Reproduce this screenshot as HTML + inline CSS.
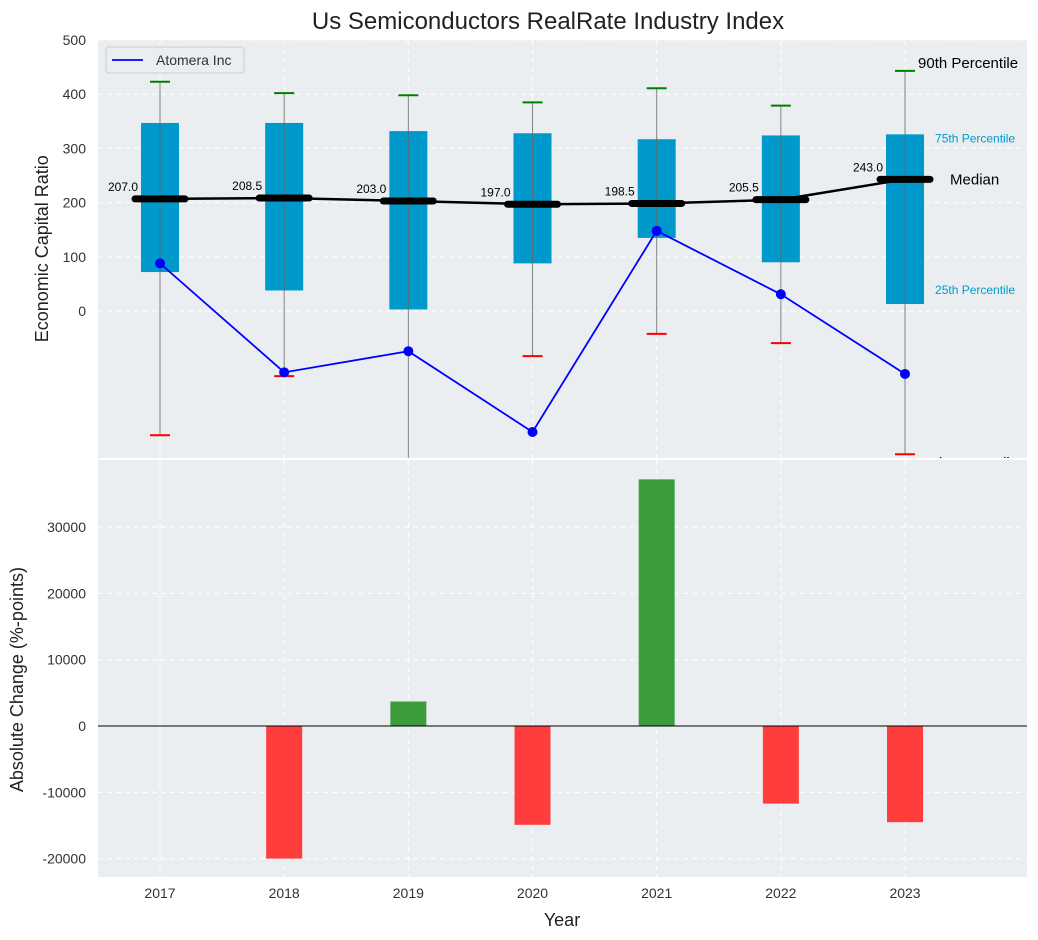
<!DOCTYPE html>
<html><head><meta charset="utf-8"><style>
body{margin:0;background:#fff;}
svg{display:block;font-family:"Liberation Sans",sans-serif;}
</style></head><body>
<svg id="chart" width="1038" height="940" xmlns="http://www.w3.org/2000/svg">
<rect width="1038" height="940" fill="#fff"/>
<text x="548" y="29" font-size="24" text-anchor="middle" fill="#222">Us Semiconductors RealRate Industry Index</text>
<g id="topPanel"></g>
<g id="botPanel"></g>
</svg>
<script>
const years=[2017,2018,2019,2020,2021,2022,2023];
const p10=[-229,-120,-300,-83,-42,-59,-264];
const p25=[72,38,3,88,135,90,13];
const medians=[207,208.5,203,197,198.5,205.5,243];
const p75=[347,347,332,328,317,324,326];
const p90=[423,402,398,385,411,379,443];
const atomera=[88,-113,-74,-223,148,31,-116];
const changes=[null,-20000,3700,-14900,37200,-11700,-14500];
const topTicks=[0,100,200,300,400,500];
const botTicks=[-20000,-10000,0,10000,20000,30000];

const NS="http://www.w3.org/2000/svg";
function mk(parent,tag,attrs,name){const e=document.createElementNS(NS,tag);for(const k in attrs)e.setAttribute(k,attrs[k]);


parent.appendChild(e);return e;}
const L=98,R=1027;
const xs=y=>160+(y-2017)*124.17;
const T0=40,T1=458,tMin=-271,tMax=500;
const ty=v=>T1-(v-tMin)/(tMax-tMin)*(T1-T0);
const B0=460,B1=877,bMin=-22770,bMax=40120;
const by=v=>B1-(v-bMin)/(bMax-bMin)*(B1-B0);
const topG=document.getElementById('topPanel'),botG=document.getElementById('botPanel');
const fmt=n=>n.toFixed(1);

// top panel
mk(topG,'rect',{x:L,y:T0,width:R-L,height:T1-T0,fill:'#eaeef0'},'top-plot-area');
years.forEach(y=>mk(topG,'line',{x1:xs(y),x2:xs(y),y1:T0,y2:T1,stroke:'#fff','stroke-dasharray':'5,4','stroke-width':1},'top-x-gridline'));
topTicks.forEach(t=>{mk(topG,'line',{x1:L,x2:R,y1:ty(t),y2:ty(t),stroke:'#fff','stroke-dasharray':'5,4','stroke-width':1},'top-y-gridline');
const tx=mk(topG,'text',{x:L-12,y:ty(t)+5,'font-size':14,'text-anchor':'end',fill:'#333'},'top-y-tick-label');tx.textContent=t;});
const yt=mk(topG,'text',{x:48,y:ty(115),'font-size':18,'text-anchor':'middle',fill:'#222',transform:`rotate(-90 48 ${ty(115)})`},'top-y-axis-title');yt.textContent='Economic Capital Ratio';
const cp=mk(topG,'clipPath',{id:'tc'},'top-clip');mk(cp,'rect',{x:L,y:T0,width:R-L,height:T1-T0},'top-clip-rect');
const g=mk(topG,'g',{'clip-path':'url(#tc)'},'top-marks');
years.forEach((y,i)=>{const x=xs(y);
mk(g,'rect',{x:x-19,y:ty(p75[i]),width:38,height:ty(p25[i])-ty(p75[i]),fill:'#0099cc'},'iqr-box-'+y);
mk(g,'line',{x1:x,x2:x,y1:ty(p90[i]),y2:ty(p10[i]),stroke:'#666','stroke-width':1,opacity:0.8},'whisker-'+y);
mk(g,'line',{x1:x-10,x2:x+10,y1:ty(p90[i]),y2:ty(p90[i]),stroke:'green','stroke-width':2},'p90-cap-'+y);
mk(g,'line',{x1:x-10,x2:x+10,y1:ty(p10[i]),y2:ty(p10[i]),stroke:'red','stroke-width':2},'p10-cap-'+y);});
mk(g,'polyline',{points:years.map((y,i)=>xs(y)+','+ty(medians[i])).join(' '),fill:'none',stroke:'#000','stroke-width':2.5},'median-line');
years.forEach((y,i)=>{const x=xs(y);
mk(g,'line',{x1:x-25,x2:x+25,y1:ty(medians[i]),y2:ty(medians[i]),stroke:'#000','stroke-width':7,'stroke-linecap':'round'},'median-marker-'+y);
const t=mk(g,'text',{x:x-37,y:ty(medians[i])-8,'font-size':12,'text-anchor':'middle',fill:'#000'},'median-label-'+y);t.textContent=fmt(medians[i]);});
mk(g,'polyline',{points:years.map((y,i)=>xs(y)+','+ty(atomera[i])).join(' '),fill:'none',stroke:'#0000ff','stroke-width':1.8},'atomera-line');
years.forEach((y,i)=>mk(g,'circle',{cx:xs(y),cy:ty(atomera[i]),r:5,fill:'#0000ff'},'atomera-point-'+y));
// legend
mk(topG,'rect',{x:106,y:47,width:138,height:26,rx:3,fill:'#eaeef0',stroke:'#ccc'},'legend-box');
mk(topG,'line',{x1:112,x2:143,y1:60,y2:60,stroke:'#0000ff','stroke-width':1.8},'legend-line-atomera');
const lt=mk(topG,'text',{x:156,y:65,'font-size':14,fill:'#333'},'legend-label-atomera');lt.textContent='Atomera Inc';
// annotations
const lx=xs(2023);
[['90th Percentile',lx+13,ty(p90[6])-3,15,'#000','annotation-p90'],
 ['75th Percentile',lx+30,ty(p75[6])+8,12,'#0099cc','annotation-p75'],
 ['Median',lx+45,ty(medians[6])+5,15,'#000','annotation-median'],
 ['25th Percentile',lx+30,ty(p25[6])-10,12,'#0099cc','annotation-p25'],
 ['10th Percentile',lx+13,ty(p10[6])+14,15,'#000','annotation-p10']].forEach(a=>{
 const t=mk(topG,'text',{x:a[1],y:a[2],'font-size':a[3],fill:a[4]},a[5]);t.textContent=a[0];});

// bottom panel
mk(botG,'rect',{x:0,y:B0-2,width:1038,height:2,fill:'#fff'},'panel-separator');
mk(botG,'rect',{x:L,y:B0,width:R-L,height:B1-B0,fill:'#eaeef0'},'bottom-plot-area');
mk(botG,'rect',{x:R,y:B0-5,width:11,height:10,fill:'#fff'},'bottom-edge');
years.forEach(y=>{mk(botG,'line',{x1:xs(y),x2:xs(y),y1:B0,y2:B1,stroke:'#fff','stroke-dasharray':'5,4'},'bottom-x-gridline');
const t=mk(botG,'text',{x:xs(y),y:B1+21,'font-size':14,'text-anchor':'middle',fill:'#333'},'x-tick-label');t.textContent=y;});
botTicks.forEach(t=>{mk(botG,'line',{x1:L,x2:R,y1:by(t),y2:by(t),stroke:'#fff','stroke-dasharray':'5,4'},'bottom-y-gridline');
const tx=mk(botG,'text',{x:L-12,y:by(t)+5,'font-size':14,'text-anchor':'end',fill:'#333'},'bottom-y-tick-label');tx.textContent=t;});
years.forEach((y,i)=>{const v=changes[i];if(v===null)return;
mk(botG,'rect',{x:xs(y)-18,y:Math.min(by(v),by(0)),width:36,height:Math.abs(by(v)-by(0)),fill:v>=0?'#3c9c3c':'#ff3d3d'},'change-bar-'+y);});
mk(botG,'line',{x1:L,x2:R,y1:by(0),y2:by(0),stroke:'#000','stroke-width':1},'zero-line');
const bt=mk(botG,'text',{x:23,y:by(7000),'font-size':18,'text-anchor':'middle',fill:'#222',transform:`rotate(-90 23 ${by(7000)})`},'bottom-y-axis-title');bt.textContent='Absolute Change (%-points)';
const xt=mk(botG,'text',{x:562,y:926,'font-size':18,'text-anchor':'middle',fill:'#222'},'x-axis-title');xt.textContent='Year';
</script>
</body></html>
